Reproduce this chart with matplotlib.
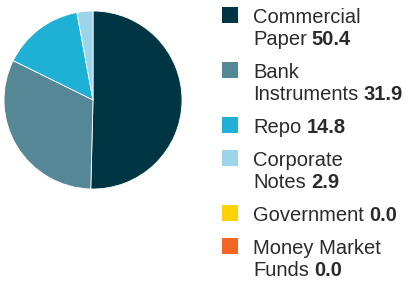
import matplotlib
matplotlib.use("Agg")
import matplotlib.pyplot as plt
from matplotlib.patches import Rectangle

# data
names = [["Commercial", "Paper"], ["Bank", "Instruments"], ["Repo"],
         ["Corporate", "Notes"], ["Government"], ["Money Market", "Funds"]]
values = [50.4, 31.9, 14.8, 2.9, 0.0, 0.0]
colors = ["#003644", "#568796", "#1fb1d5", "#9cd5ea", "#ffd200", "#f26522"]

W, H = 416, 281
fig = plt.figure(figsize=(W / 100, H / 100), dpi=100)

# pie
cx, cy, r = 93, 100, 89
pax = fig.add_axes([(cx - r) / W, (H - cy - r) / H, 2 * r / W, 2 * r / H])
pax.pie(values[:4], colors=colors[:4], startangle=90, counterclock=False,
        radius=1, wedgeprops=dict(linewidth=0.6, edgecolor="white"))
pax.set_xlim(-1, 1)
pax.set_ylim(-1, 1)
pax.axis("off")

# legend drawn in pixel coords
lax = fig.add_axes([0, 0, 1, 1])
lax.set_xlim(0, W)
lax.set_ylim(H, 0)
lax.axis("off")

txt = "#2b2b2b"
fs = 14.5
font = "Liberation Sans"
line_h = 22
gap = 33
y = 23
for name, val, col in zip(names, values, colors):
    lax.add_patch(Rectangle((222, y - 16), 16, 16, color=col, lw=0))
    for i, line in enumerate(name):
        yy = y + i * line_h
        t = lax.text(253, yy, line, fontsize=fs, color=txt, va="baseline",
                     family=font)
        if i == len(name) - 1:
            lax.annotate(f"{val:.1f}", xy=(1, yy), xycoords=(t, "data"),
                         xytext=(5, 0), textcoords="offset pixels",
                         fontsize=fs, color=txt, fontweight="bold",
                         va="baseline", family=font)
    y += (len(name) - 1) * line_h + gap

fig.savefig("out.png", dpi=100)
